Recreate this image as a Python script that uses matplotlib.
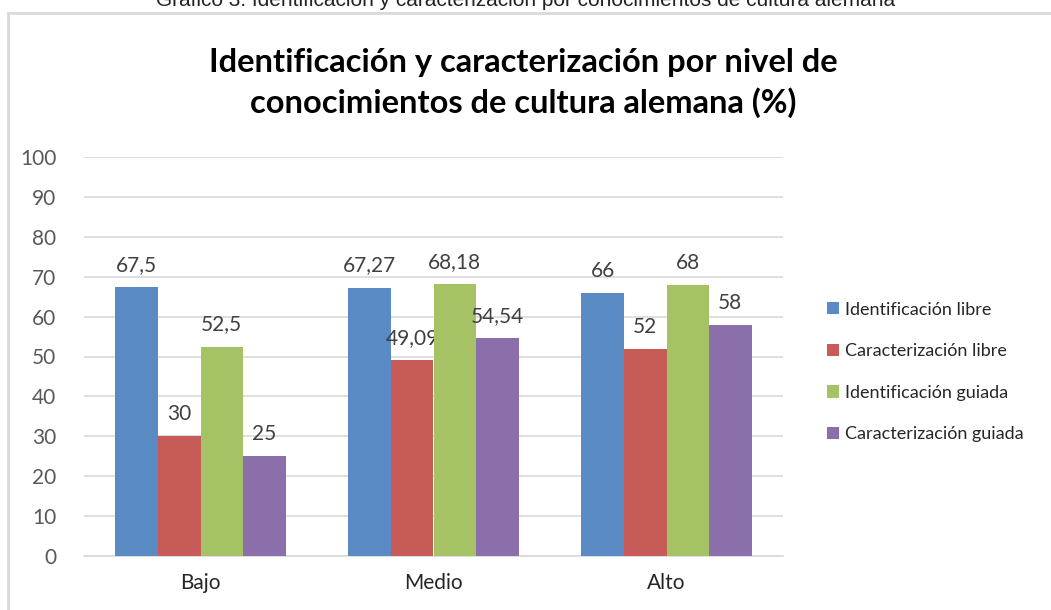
import numpy as np
import matplotlib
matplotlib.use("Agg")
import matplotlib.pyplot as plt
from matplotlib.patches import Rectangle

# datos
categorias = ["Bajo", "Medio", "Alto"]
series = ["Identificación libre", "Caracterización libre",
          "Identificación guiada", "Caracterización guiada"]
id_libre = [67.5, 67.27, 66]
car_libre = [30, 49.09, 52]
id_guiada = [52.5, 68.18, 68]
car_guiada = [25, 54.54, 58]
etiquetas = [["67,5", "67,27", "66"],
             ["30", "49,09", "52"],
             ["52,5", "68,18", "68"],
             ["25", "54,54", "58"]]
valores = [id_libre, car_libre, id_guiada, car_guiada]
colores = ["#5A8AC4", "#C65B57", "#A5C264", "#8B6FAA"]

plt.rcParams['font.family'] = ['Lato', 'DejaVu Sans']

W, H = 1051, 610
fig = plt.figure(figsize=(W / 100, H / 100), dpi=100)

# marco del gráfico
fig.patches.append(Rectangle((8 / W, -0.1), 1.2, 1 - 13 / H + 0.1,
                             transform=fig.transFigure, fill=False,
                             edgecolor="#D9D9D9", linewidth=2))
# pie de figura recortado arriba
fig.text(0.5, 1 - 1 / H, "Gráfico 3. Identificación y caracterización por conocimientos de cultura alemana",
         ha="center", va="center", fontsize=15, color="#222222",
         family=['Liberation Sans Narrow', 'Liberation Sans', 'DejaVu Sans'])

ax = fig.add_axes([84 / W, 1 - 556 / H, (783 - 84) / W, (556 - 157) / H])
x = np.arange(len(categorias))
ancho = 0.1825
for i, (vals, col) in enumerate(zip(valores, colores)):
    pos = x + (i - 1.5) * ancho
    bars = ax.bar(pos, vals, width=ancho, color=col, label=series[i], zorder=3)
    for b, txt in zip(bars, etiquetas[i]):
        ax.annotate(txt, (b.get_x() + b.get_width() / 2, b.get_height()),
                    xytext=(0, 12), textcoords="offset pixels",
                    ha="center", va="bottom", fontsize=15, color="#404040")

ax.set_xlim(-0.5, 2.5)
ax.set_ylim(0, 100)
ax.set_yticks(range(0, 101, 10))
ax.set_xticks(x)
ax.set_xticklabels(categorias)
ax.yaxis.grid(True, color="#D9D9D9", linewidth=1.2, zorder=0)
for s in ["top", "right", "left"]:
    ax.spines[s].set_visible(False)
ax.spines["bottom"].set_color("#D9D9D9")
ax.spines["bottom"].set_linewidth(1.2)
ax.tick_params(axis="both", length=0, labelsize=15, labelcolor="#595959")
ax.tick_params(axis="x", pad=12, labelcolor="#262626")
ax.tick_params(axis="y", pad=20)

fig.text(523 / W, 1 - 83 / H,
         "Identificación y caracterización por nivel de\nconocimientos de cultura alemana (%)",
         ha="center", va="center", fontsize=23.5, fontweight="bold",
         color="#000000", linespacing=1.4)

ax.legend(loc="center left", bbox_to_anchor=(811 / W, 1 - 372 / H),
          bbox_transform=fig.transFigure, frameon=False, fontsize=13,
          handlelength=0.65, handleheight=0.65, handletextpad=0.35,
          labelspacing=1.42, labelcolor="#262626")

fig.savefig("out.png", dpi=100)
